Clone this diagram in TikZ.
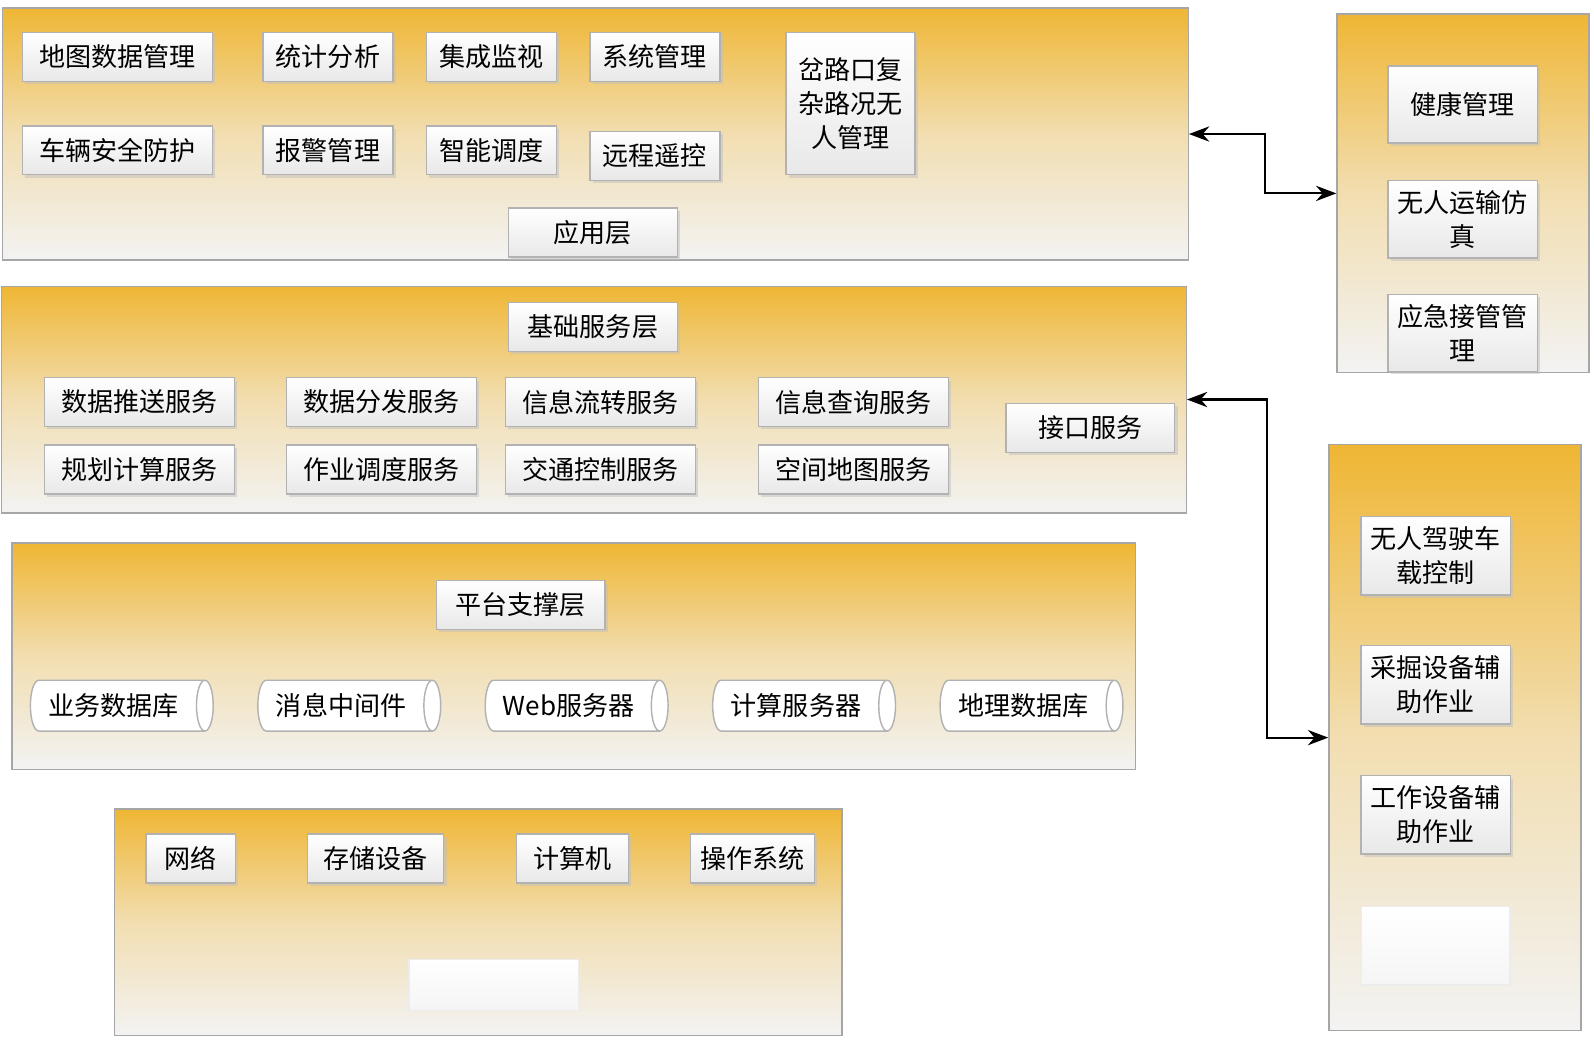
\documentclass[tikz,border=0pt]{standalone}
\usepackage{fontspec}
\setmainfont{Noto Sans CJK SC}
\usetikzlibrary{positioning, arrows.meta, shapes.geometric, shadows}
\definecolor{amber}{HTML}{EFB634}
\definecolor{mist}{HTML}{F3F3F3}

\begin{document}
\begin{tikzpicture}[
        x=0.01cm, y=-0.01cm,
        font=\fontsize{7.3}{9.6}\selectfont,
        layer/.style={draw=gray!70, inner sep=0pt, top color=amber, bottom color=mist, middle color=amber!35!mist},
        cell/.style={draw=gray!60, top color=white, bottom color=gray!18, align=center, inner sep=1pt, minimum height=0.48cm,
            drop shadow={shadow xshift=0.8pt, shadow yshift=-0.8pt, fill=gray!50}},
        ghost/.style={draw=gray!15, top color=white, bottom color=gray!8, minimum width=1.67cm, minimum height=0.5cm},
        db/.style={cylinder, shape border rotate=0, aspect=0.35, draw=gray!60, fill=white, minimum width=0.5cm, minimum height=1.8cm, align=center},
        link/.style={draw, semithick, {Stealth}-{Stealth}}
    ]
    \path[use as bounding box] (0,0) rectangle (1570,1030);

    % Schichten
    \node (app)  [layer, minimum width=11.67cm, minimum height=2.48cm] at (586.5,132) {};
    \node (svc)  [layer, minimum width=11.66cm, minimum height=2.23cm] at (585,393.5) {};
    \node (plat) [layer, minimum width=11.06cm, minimum height=2.23cm] at (565,646.5) {};
    \node (base) [layer, minimum width=7.16cm, minimum height=2.23cm] at (471,908.5) {};
    \node (rtop) [layer, minimum width=2.48cm, minimum height=3.53cm] at (1441,190.5) {};
    \node (rbot) [layer, minimum width=2.48cm, minimum height=5.77cm] at (1433,726.5) {};

    % Anwendungsschicht
    \node (mapdata)  [cell, minimum width=1.87cm] at (115.5,56) {地图数据管理};
    \node (stats)    [cell, minimum width=1.28cm] at (323,56) {统计分析};
    \node (monitor)  [cell, minimum width=1.28cm] at (484,56) {集成监视};
    \node (sysmgmt)  [cell, minimum width=1.28cm] at (645,56) {系统管理};
    \node (junction) [cell, minimum width=1.27cm, minimum height=1.40cm] at (837.5,102) {岔路口复\\杂路况无\\人管理};
    \node (safety)   [cell, minimum width=1.87cm] at (115.5,148) {车辆安全防护};
    \node (alarm)    [cell, minimum width=1.28cm] at (323,148) {报警管理};
    \node (dispatch) [cell, minimum width=1.28cm] at (484,148) {智能调度};
    \node (remote)   [cell, minimum width=1.28cm] at (645,153.5) {远程遥控};
    \node (applbl)   [cell, minimum width=1.66cm] at (584,229) {应用层};

    % Basisdienste
    \node (svclbl) [cell, minimum width=1.66cm] at (584,322) {基础服务层};
    \node (push)   [cell, minimum width=1.87cm] at (137.5,396) {数据推送服务};
    \node (distr)  [cell, minimum width=1.87cm] at (375.5,396) {数据分发服务};
    \node (flow)   [cell, minimum width=1.87cm] at (591.5,396) {信息流转服务};
    \node (query)  [cell, minimum width=1.87cm] at (840.5,396) {信息查询服务};
    \node (plan)   [cell, minimum width=1.87cm] at (137.5,462.5) {规划计算服务};
    \node (jobs)   [cell, minimum width=1.87cm] at (375.5,462.5) {作业调度服务};
    \node (traffic)[cell, minimum width=1.87cm] at (591.5,462.5) {交通控制服务};
    \node (spatial)[cell, minimum width=1.87cm] at (840.5,462.5) {空间地图服务};
    \node (iface)  [cell, minimum width=1.66cm] at (1074,421.5) {接口服务};

    % Plattform
    \node (platlbl) [cell, minimum width=1.66cm] at (513,596) {平台支撑层};
    \node (bizdb)  [db] at (112,695) {业务数据库};
    \node (mq)     [db] at (336,695) {消息中间件};
    \node (web)    [db] at (560,695) {Web服务器};
    \node (calc)   [db] at (784,695) {计算服务器};
    \node (geodb)  [db] at (1008,695) {地理数据库};

    % Infrastruktur
    \node (net)     [cell, minimum width=0.88cm] at (188,845.5) {网络};
    \node (storage) [cell, minimum width=1.34cm] at (370,845.5) {存储设备};
    \node (pc)      [cell, minimum width=1.10cm] at (564,845.5) {计算机};
    \node (os)      [cell, minimum width=1.22cm] at (741,845.5) {操作系统};
    \node (baselbl) [ghost] at (486.5,970) {};

    % rechte Seite
    \node (health) [cell, minimum width=1.45cm, minimum height=0.76cm, text width=1.4cm] at (1440.5,103) {健康管理};
    \node (sim)    [cell, minimum width=1.45cm, minimum height=0.76cm, text width=1.4cm] at (1440.5,216) {无人运输仿\\真};
    \node (takeover)[cell, minimum width=1.45cm, minimum height=0.76cm, text width=1.4cm] at (1440.5,328) {应急接管管\\理};
    \node (onboard)[cell, minimum width=1.46cm, minimum height=0.77cm, text width=1.4cm] at (1414,547.5) {无人驾驶车\\载控制};
    \node (mining) [cell, minimum width=1.46cm, minimum height=0.77cm, text width=1.4cm] at (1414,674.5) {采掘设备辅\\助作业};
    \node (workeq) [cell, minimum width=1.46cm, minimum height=0.77cm, text width=1.4cm] at (1414,802.5) {工作设备辅\\助作业};
    \node (rlbl)   [ghost, minimum width=1.46cm, minimum height=0.77cm] at (1414,931.5) {};

    % Verbindungen
    \draw[link] (app.east) -- ++(75,0) |- (rtop.west);
    \draw[link] (svc.east) -- ++(79,0) |- (rbot.west);

\end{tikzpicture}
\end{document}
